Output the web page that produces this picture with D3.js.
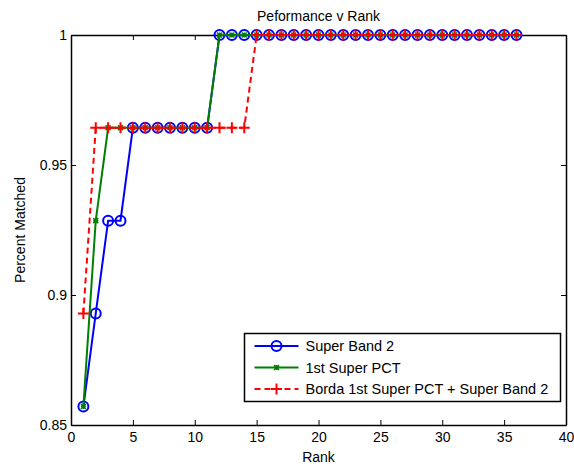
<!DOCTYPE html>
<html>
<head>
<meta charset="utf-8">
<script src="https://cdn.jsdelivr.net/npm/d3@7"></script>
<style>
  html, body { margin: 0; padding: 0; background: #fff; }
  svg { display: block; }
  text { font-family: "Liberation Sans", Arial, sans-serif; fill: #000; }
</style>
</head>
<body>
<script>
// Rank positions 1..36
const ranks = d3.range(1, 37);

// Fraction of queries matched at each rank (out of 28)
const superBand2 = [0.8571, 0.8929, 0.9286, 0.9286, 0.9643, 0.9643, 0.9643, 0.9643, 0.9643, 0.9643, 0.9643,
  1, 1, 1, 1, 1, 1, 1, 1, 1, 1, 1, 1, 1, 1, 1, 1, 1, 1, 1, 1, 1, 1, 1, 1, 1];
const firstSuperPCT = [0.8571, 0.9286, 0.9643, 0.9643, 0.9643, 0.9643, 0.9643, 0.9643, 0.9643, 0.9643, 0.9643,
  1, 1, 1, 1, 1, 1, 1, 1, 1, 1, 1, 1, 1, 1, 1, 1, 1, 1, 1, 1, 1, 1, 1, 1, 1];
const bordaCombined = [0.8929, 0.9643, 0.9643, 0.9643, 0.9643, 0.9643, 0.9643, 0.9643, 0.9643, 0.9643, 0.9643,
  0.9643, 0.9643, 0.9643, 1, 1, 1, 1, 1, 1, 1, 1, 1, 1, 1, 1, 1, 1, 1, 1, 1, 1, 1, 1, 1, 1];

const seriesNames = ["Super Band 2", "1st Super PCT", "Borda 1st Super PCT + Super Band 2"];
const xTicks = [0, 5, 10, 15, 20, 25, 30, 35, 40];
const yTicks = [0.85, 0.9, 0.95, 1];

const W = 574, H = 466;
const margin = { left: 71, right: 8, top: 35, bottom: 41 };
const fontSize = 14;

const svg = d3.select("body").append("svg").attr("width", W).attr("height", H);

const x = d3.scaleLinear().domain([0, 40]).range([margin.left, W - margin.right]);
const y = d3.scaleLinear().domain([0.85, 1]).range([H - margin.bottom, margin.top]);

const defs = svg.append("defs");
defs.append("clipPath").attr("id", "plot-clip")
  .append("rect")
  .attr("x", margin.left - 8).attr("y", margin.top - 8)
  .attr("width", x(40) - margin.left + 16).attr("height", y(0.85) - margin.top + 16);

// Axes with inward ticks on all four sides
const tickLen = 5;
const fmtY = d => d === 1 ? "1" : String(d);

svg.append("g")
  .attr("transform", `translate(0,${y(0.85)})`)
  .call(d3.axisBottom(x).tickValues(xTicks).tickSizeInner(-tickLen).tickSizeOuter(0).tickPadding(7))
  .call(g => g.selectAll("text").attr("font-size", fontSize));
svg.append("g")
  .attr("transform", `translate(0,${y(1)})`)
  .call(d3.axisTop(x).tickValues(xTicks).tickSizeInner(-tickLen).tickSizeOuter(0).tickFormat(""));
svg.append("g")
  .attr("transform", `translate(${x(0)},0)`)
  .call(d3.axisLeft(y).tickValues(yTicks).tickSizeInner(-tickLen).tickSizeOuter(0).tickPadding(4).tickFormat(fmtY))
  .call(g => g.selectAll("text").attr("font-size", fontSize));
svg.append("g")
  .attr("transform", `translate(${x(40)},0)`)
  .call(d3.axisRight(y).tickValues(yTicks).tickSizeInner(-tickLen).tickSizeOuter(0).tickFormat(""));

svg.selectAll(".domain").attr("stroke", "#000").attr("stroke-width", 1.5);
svg.selectAll(".tick line").attr("stroke", "#000").attr("stroke-width", 1);

// Title and axis labels
svg.append("text").attr("x", (x(0) + x(40)) / 2).attr("y", 21)
  .attr("text-anchor", "middle").attr("font-size", fontSize).text("Peformance v Rank");
svg.append("text").attr("x", (x(0) + x(40)) / 2).attr("y", 462)
  .attr("text-anchor", "middle").attr("font-size", fontSize).text("Rank");
svg.append("text")
  .attr("transform", `translate(25,${(y(0.85) + y(1)) / 2}) rotate(-90)`)
  .attr("text-anchor", "middle").attr("font-size", fontSize).text("Percent Matched");

// Series
const line = d3.line().x(d => x(d[0])).y(d => y(d[1]));
const plot = svg.append("g").attr("clip-path", "url(#plot-clip)");

const series = [
  { name: seriesNames[0], values: superBand2, color: "#0000ff", dash: null, marker: "circle" },
  { name: seriesNames[1], values: firstSuperPCT, color: "#008000", dash: null, marker: "star" },
  { name: seriesNames[2], values: bordaCombined, color: "#ff0000", dash: "6,4", marker: "plus" }
];

function drawMarker(g, type, color, cx, cy) {
  if (type === "circle") {
    g.append("circle").attr("cx", cx).attr("cy", cy).attr("r", 5)
      .attr("fill", "none").attr("stroke", color).attr("stroke-width", 2);
  } else if (type === "plus") {
    const s = 5.5;
    g.append("path").attr("d", `M${cx - s},${cy}H${cx + s}M${cx},${cy - s}V${cy + s}`)
      .attr("stroke", color).attr("stroke-width", 2).attr("fill", "none");
  } else {
    const s = 2.5;
    g.append("path")
      .attr("d", `M${cx - s},${cy}H${cx + s}M${cx},${cy - s}V${cy + s}M${cx - s},${cy - s}L${cx + s},${cy + s}M${cx - s},${cy + s}L${cx + s},${cy - s}`)
      .attr("stroke", color).attr("stroke-width", 1.5).attr("fill", "none");
  }
}

series.forEach(s => {
  const pts = ranks.map((r, i) => [r, s.values[i]]);
  plot.append("path").datum(pts).attr("d", line)
    .attr("fill", "none").attr("stroke", s.color).attr("stroke-width", 2)
    .attr("stroke-dasharray", s.dash);
  const mg = plot.append("g");
  pts.forEach(p => drawMarker(mg, s.marker, s.color, x(p[0]), y(p[1])));
});

// Legend
const lg = svg.append("g");
const lx = 244.5, ly = 333.5, lw = 316, lh = 68;
lg.append("rect").attr("x", lx).attr("y", ly).attr("width", lw).attr("height", lh)
  .attr("fill", "#fff").attr("stroke", "#000").attr("stroke-width", 1.5);
series.forEach((s, i) => {
  const yy = ly + 12.5 + i * 21.5;
  lg.append("line").attr("x1", lx + 10).attr("x2", lx + 54).attr("y1", yy).attr("y2", yy)
    .attr("stroke", s.color).attr("stroke-width", 2).attr("stroke-dasharray", s.dash);
  drawMarker(lg, s.marker, s.color, lx + 32, yy);
  lg.append("text").attr("x", lx + 61).attr("y", yy + 5).attr("font-size", 14.5).text(s.name);
});
</script>
</body>
</html>
